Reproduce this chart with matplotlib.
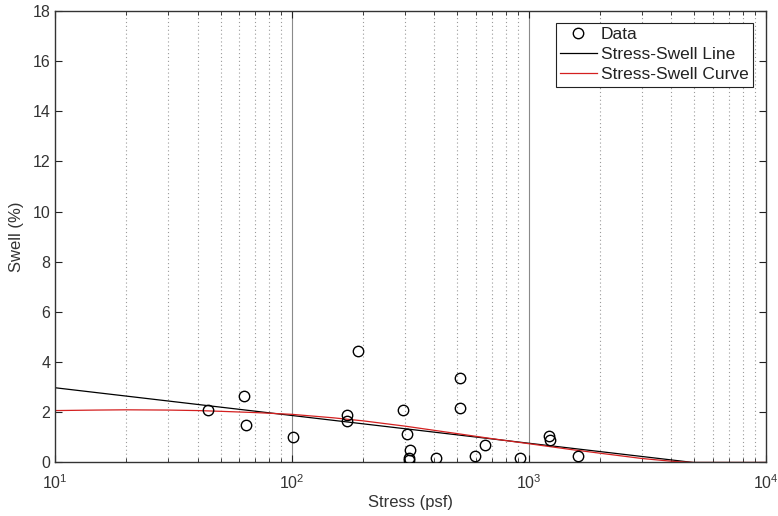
import matplotlib
matplotlib.use("Agg")
import matplotlib.pyplot as plt
import numpy as np
from matplotlib.ticker import LogLocator, NullFormatter, FixedLocator

plt.rcParams['font.family'] = ['Liberation Sans', 'DejaVu Sans']

# measured swell tests
stress = [44.4, 62.8, 63.8, 101, 171, 171, 190, 294, 306, 316, 311, 313,
          408, 514, 514, 592, 651, 916, 1219, 1236, 1614]
swell = [2.08, 2.66, 1.49, 1.00, 1.88, 1.66, 4.43, 2.08, 1.15, 0.51, 0.18, 0.09,
         0.17, 3.35, 2.17, 0.26, 0.71, 0.17, 1.04, 0.90, 0.24]

# straight stress-swell line (log x), clipped at zero swell
line_stress = [10, 4950, 10000]
line_swell = [2.98, 0.0, 0.0]

# fitted stress-swell curve
curve_stress = [10, 15, 20, 30, 40, 50, 70, 100, 150, 200, 300, 500, 700,
                1000, 1500, 2000, 3000, 4000, 5000, 6000, 10000]
curve_swell = [2.07, 2.09, 2.10, 2.09, 2.07, 2.04, 1.99, 1.92, 1.78, 1.66, 1.45,
               1.15, 0.95, 0.75, 0.52, 0.37, 0.16, 0.05, 0.0, 0.0, 0.0]

TXT = '#333333'

fig = plt.figure(figsize=(7.78, 5.16), dpi=100)
ax = fig.add_axes([0.0707, 0.1037, 0.9133, 0.8750])

ax.set_xscale('log')
ax.set_xlim(10, 1e4)
ax.set_ylim(0, 18)

# vertical grid: solid at decades, dotted in between
for d in [100, 1000]:
    ax.axvline(d, color='#8a8a8a', lw=0.8, zorder=0)
for dec in [10, 100, 1000]:
    for m in range(2, 10):
        ax.axvline(dec * m, color='#9a9a9a', lw=0.8, ls=(0, (1, 2.5)), zorder=0)

ax.plot(stress, swell, 'o', mfc='none', mec='black', ms=7.5, mew=1.0,
        label='Data', zorder=3)
ax.plot(line_stress, line_swell, color='black', lw=0.9, label='Stress-Swell Line', zorder=2)
ax.plot(curve_stress, curve_swell, color='#d42020', lw=0.9, label='Stress-Swell Curve', zorder=2)

ax.yaxis.set_major_locator(FixedLocator(np.arange(0, 19, 2)))
ax.xaxis.set_major_locator(LogLocator(base=10, numticks=10))
ax.xaxis.set_minor_locator(LogLocator(base=10, subs=np.arange(2, 10), numticks=20))
ax.xaxis.set_minor_formatter(NullFormatter())

ax.tick_params(which='both', direction='in', top=True, right=True,
               colors='#222222', labelcolor=TXT, labelsize=11.5)
ax.tick_params(which='major', length=5, width=0.8)
ax.tick_params(which='minor', length=3, width=0.6)
ax.tick_params(axis='x', pad=8)

for s in ax.spines.values():
    s.set_color('#333333')
    s.set_linewidth(1.0)

ax.set_xlabel('Stress (psf)', fontsize=12, color=TXT, labelpad=2)
ax.set_ylabel('Swell (%)', fontsize=12, color=TXT, labelpad=6)

leg = ax.legend(loc='upper right', bbox_to_anchor=(0.9824, 0.974), borderaxespad=0,
                fancybox=False, framealpha=1, edgecolor='#222222', fontsize=12.5,
                handlelength=2.1, handletextpad=0.25, borderpad=0.25, labelspacing=0.28)
leg.get_frame().set_linewidth(0.8)
for t in leg.get_texts():
    t.set_color('#222222')

fig.savefig('out.png', dpi=100)
